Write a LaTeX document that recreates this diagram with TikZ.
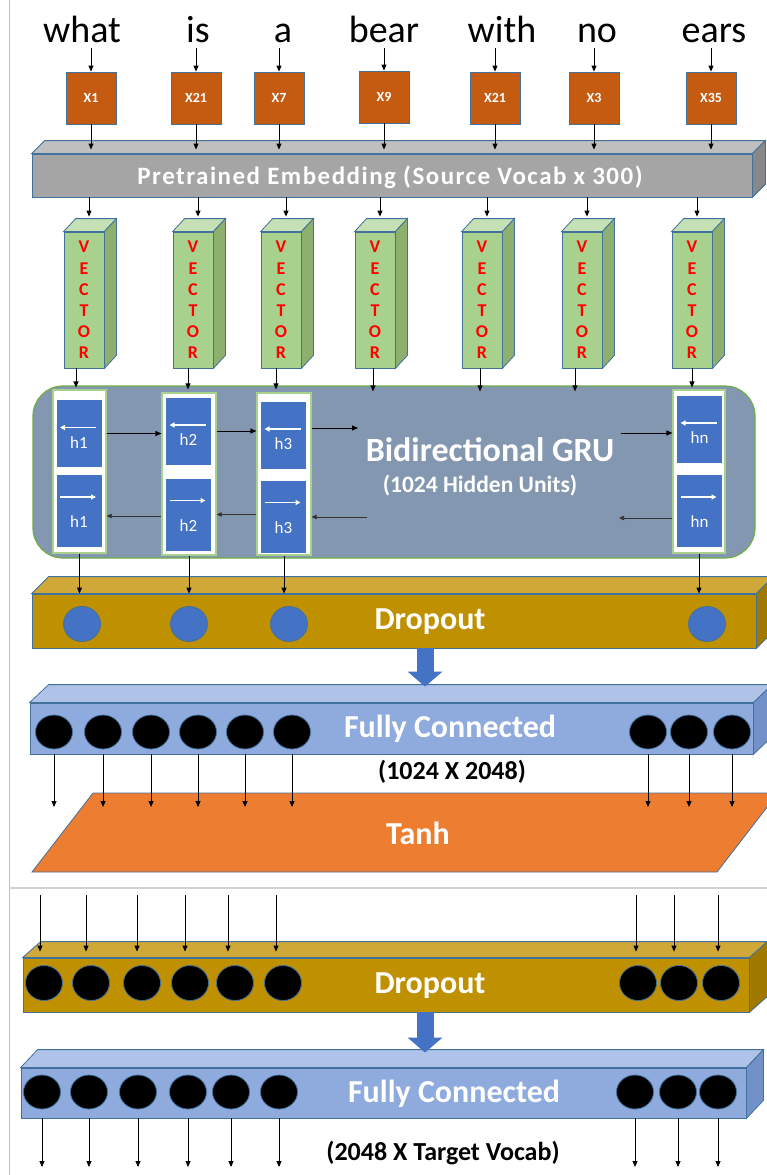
\documentclass[tikz,border=0pt]{standalone}
\usepackage{fontspec}
\setmainfont{Carlito}
\usetikzlibrary{arrows.meta,calc,shapes.geometric}
\definecolor{xorange}{HTML}{C55A11}
\definecolor{edgeblue}{HTML}{41719C}
\definecolor{embfront}{HTML}{A5A5A5}
\definecolor{embtop}{HTML}{BFBFBF}
\definecolor{embside}{HTML}{888888}
\definecolor{vecfront}{HTML}{A9D18E}
\definecolor{vectop}{HTML}{C5E0B4}
\definecolor{vecside}{HTML}{8DB06F}
\definecolor{grufill}{HTML}{8497B0}
\definecolor{grugreen}{HTML}{70AD47}
\definecolor{cellgreen}{HTML}{A9D18E}
\definecolor{sqblue}{HTML}{4472C4}
\definecolor{dropfront}{HTML}{BF9000}
\definecolor{droptop}{HTML}{D0A838}
\definecolor{dropside}{HTML}{A07A00}
\definecolor{fcfront}{HTML}{8FAADC}
\definecolor{fctop}{HTML}{AFC3E8}
\definecolor{fcside}{HTML}{7391C9}
\definecolor{tanhfill}{HTML}{ED7D31}
\newcommand{\fs}[1]{\fontsize{#1}{#1}\selectfont}
\newcommand{\sidefaces}[5]{%
  \path[fill=#4, draw=edgeblue, line width=0.8pt] (#1.north west) -- ++(#2,#3) -- ($(#1.north east)+(#2,#3)$) -- (#1.north east) -- cycle;
  \path[fill=#5, draw=edgeblue, line width=0.8pt] (#1.north east) -- ($(#1.north east)+(#2,#3)$) -- ($(#1.south east)+(#2,#3)$) -- (#1.south east) -- cycle;
}
\tikzset{
  arr/.style={-{Triangle[length=6pt,width=5pt]}, line width=0.9pt, black},
  larr/.style={-{Triangle[length=5pt,width=4.5pt]}, line width=0.7pt, black!80},
  warr/.style={-{Triangle[length=5pt,width=5pt]}, line width=1.3pt, white},
  bigarr/.style={line width=17pt, sqblue, -{Triangle[length=15pt,width=34pt]}},
  word/.style={font=\fs{38}, inner sep=0pt, anchor=base},
  xbox/.style={rectangle, fill=xorange, draw=edgeblue, line width=0.8pt, minimum width=50pt, minimum height=52pt, inner sep=0pt, text=white, font=\fs{14}\bfseries},
  barfront/.style={rectangle, draw=edgeblue, line width=0.8pt, inner sep=0pt, text=white},
  vecbox/.style={rectangle, fill=vecfront, draw=edgeblue, line width=0.8pt, minimum width=40pt, minimum height=136pt, inner sep=0pt, text=red, align=center, font=\fontsize{18}{21.2}\selectfont\bfseries},
  cellbox/.style={rectangle, fill=white, draw=cellgreen, line width=1.2pt, inner sep=0pt},
  sq/.style={rectangle, fill=sqblue, inner sep=0pt},
  hlab/.style={text=white, font=\fs{17}, inner sep=0pt},
  bcirc/.style={ellipse, fill=sqblue, draw=edgeblue, line width=0.8pt, minimum width=37pt, minimum height=35pt, inner sep=0pt},
  kcirc/.style={ellipse, fill=black, draw=edgeblue, line width=0.8pt, minimum width=37pt, minimum height=34pt, inner sep=0pt},
  bartext/.style={text=white, font=\fs{32}\bfseries, inner sep=0pt},
  dimtext/.style={text=black, font=\fs{26}\bfseries, inner sep=0pt},
}
\begin{document}
\begin{tikzpicture}[x=1pt,y=-1pt]
\useasboundingbox (0,0) rectangle (767,1175);
\clip (0,0) rectangle (767,1175);
\fill[white] (0,0) rectangle (767,1175);
\draw[black!25, line width=1pt] (9,0) -- (9,1175);
\draw[black!18, line width=2pt] (9,888) -- (767,888);

% words
\node[word] (w1) at (82,42) {what};
\node[word] (w2) at (198,42) {is};
\node[word] (w3) at (283,42) {a};
\node[word] (w4) at (384,42) {bear};
\node[word] (w5) at (502,42) {with};
\node[word] (w6) at (597,42) {no};
\node[word] (w7) at (714,42) {ears};

% X boxes
\node[xbox] (x1) at (91,98) {X1};
\node[xbox] (x2) at (196,98) {X21};
\node[xbox] (x3) at (279,98) {X7};
\node[xbox] (x4) at (384,97) {X9};
\node[xbox] (x5) at (495,98) {X21};
\node[xbox] (x6) at (594,98) {X3};
\node[xbox] (x7) at (711,98) {X35};
\foreach \i in {1,...,7}{\draw[arr] ([yshift=-6pt]w\i.base -| x\i.north) -- (x\i.north);}

% embedding bar
\node[barfront, fill=embfront, minimum width=720pt, minimum height=43pt] (emb) at (392,175.5) {};
\sidefaces{emb}{13}{-13}{embtop}{embside}
\node[text=white, font=\fs{25}\bfseries\addfontfeature{LetterSpace=6}, inner sep=0pt] (embt) at (390,177) {Pretrained Embedding (Source Vocab x 300)};
\foreach \i in {1,...,7}{\draw[arr] (x\i.south) -- ([yshift=4pt]x\i.south |- emb.north);}

% vectors
\foreach \i/\x in {1/84,2/193,3/281,4/375,5/482,6/582,7/692}{
  \node[vecbox] (v\i) at (\x,300) {V\\E\\C\\T\\O\\R};
  \sidefaces{v\i}{12}{-13}{vectop}{vecside}
  \draw[arr] ([xshift=5pt]v\i.north |- emb.south) -- ([xshift=5pt,yshift=15pt]v\i.north);
}

% GRU box
\node[rectangle, rounded corners=30pt, fill=grufill, draw=grugreen, line width=1.2pt, minimum width=722pt, minimum height=172pt, inner sep=0pt] (gru) at (394,472) {};
\node[text=white, font=\fs{34}\bfseries, inner sep=0pt] (grut) at (490,450) {Bidirectional GRU};
\node[text=white, font=\fs{23.5}\bfseries, inner sep=0pt] (grus) at (480,486) {(1024 Hidden Units)};

% cells
\node[cellbox, minimum width=53pt, minimum height=163pt] (c1) at (79.5,471.5) {};
\node[cellbox, minimum width=54pt, minimum height=162pt] (c2) at (189,474) {};
\node[cellbox, minimum width=54pt, minimum height=162pt] (c3) at (284,474) {};
\node[cellbox, minimum width=52pt, minimum height=163pt] (cn) at (699,471.5) {};
\foreach \n/\x/\yt/\yb/\lab in {1/79/433.5/511/h1, 2/188.5/431/514.5/h2, 3/283.5/435/516.5/h3, n/699.5/429/511/hn}{
  \node[sq, minimum width=45pt, minimum height=67pt] (t\n) at (\x,\yt) {};
  \node[sq, minimum width=45pt, minimum height=72pt] (b\n) at (\x,\yb) {};
  \draw[warr] ([xshift=17pt,yshift=6pt]t\n.center) -- ([xshift=-19pt,yshift=6pt]t\n.center);
  \node[hlab] at ([yshift=-9pt]t\n.center) {\lab};
  \draw[warr] ([xshift=-19pt,yshift=14pt]b\n.center) -- ([xshift=17pt,yshift=14pt]b\n.center);
  \node[hlab] at ([yshift=-11pt]b\n.center) {\lab};
}
\coordinate (g1) at (358,428);
\coordinate (g2) at (621,433);
\coordinate (g3) at (367,517);
\coordinate (g4) at (619,518);
\draw[arr] (t1.east -| c1.east) -- (t1.east -| c2.west);
\draw[arr] (t2.east -| c2.east) -- (t2.east -| c3.west);
\draw[arr] (g1 -| c3.east) -- (g1);
\draw[arr] (g2) -- (g2 -| cn.west);
\draw[larr] ([yshift=-5pt]b1.center -| c2.west) -- ([yshift=-5pt]b1.center -| c1.east);
\draw[larr] (b2.center -| c3.west) -- (b2.center -| c2.east);
\draw[larr] (g3) -- (g3 -| c3.east);
\draw[larr] (g4 -| cn.west) -- (g4);

% vectors -> GRU
\foreach \nm/\dx/\tg/\dy in {1/-8/c1/2, 2/-5/c2/3, 3/-5/c3/3, 4/-2/gru/-6, 5/-2/gru/-6, 6/-7/gru/-6, 7/0/cn/2}{
  \draw[arr] ([xshift=\dx pt]v\nm.south) -- ([xshift=\dx pt, yshift=\dy pt]v\nm.south |- \tg.north);
}

% Dropout 1
\node[barfront, fill=dropfront, minimum width=724pt, minimum height=54pt] (d1) at (394,621) {};
\sidefaces{d1}{17}{-17}{droptop}{dropside}
\foreach \i/\x in {1/82,2/189,3/289,4/707}{\node[bcirc] (da\i) at (\x,624) {};}
\node[bartext] (d1t) at (430,622) {Dropout};
\foreach \c in {c1,c2,c3,cn}{\draw[arr] (\c.south) -- (\c.south |- d1.north);}

% FC 1
\node[barfront, fill=fcfront, minimum width=723pt, minimum height=51pt] (fc1) at (391.5,728.5) {};
\sidefaces{fc1}{19}{-18}{fctop}{fcside}
\foreach \i/\x in {1/54,2/103,3/151,4/198,5/245,6/292,7/648,8/689,9/732}{\node[kcirc] (fa\i) at (\x,732) {};}
\node[bartext] (fc1t) at (450,729) {Fully Connected};
\draw[bigarr] ([xshift=31pt]d1.south) -- ([xshift=31pt,yshift=16pt]d1.south |- fc1.north);
\node[dimtext] (fc1d) at (452,772) {(1024 X 2048)};

% Tanh
\path[fill=tanhfill, draw=edgeblue, line width=0.8pt] (32,872) -- (93,793) -- (778,793) -- (717,872) -- cycle;
\node[bartext] (tanh) at (418,833) {Tanh};
\coordinate (tt) at (0,807);
\foreach \i in {1,...,9}{\draw[arr] (fa\i.south |- fc1.south) -- (fa\i |- tt);}

% bottom section
\coordinate (top2) at (0,895);
\node[barfront, fill=dropfront, minimum width=726pt, minimum height=54pt] (d2) at (386,985) {};
\sidefaces{d2}{18}{-16}{droptop}{dropside}
\foreach \i/\x in {1/44,2/91,3/142,4/190,5/235,6/283,7/638,8/679,9/721}{\node[kcirc, minimum height=35pt] (db\i) at (\x,983) {};}
\node[bartext] (d2t) at (430,986) {Dropout};
\foreach \i/\x in {1/40,2/86,3/137,4/185,5/228,6/276,7/636,8/674,9/718}{
  \coordinate (s\i) at (\x,895);
  \draw[arr] (s\i) -- ([yshift=6pt]s\i |- d2.north);
}

\node[barfront, fill=fcfront, minimum width=725pt, minimum height=50pt] (fc2) at (383.5,1093) {};
\sidefaces{fc2}{17}{-18}{fctop}{fcside}
\foreach \i/\x in {1/42,2/89,3/138,4/188,5/231,6/279,7/635,8/678,9/718}{\node[kcirc] (fb\i) at (\x,1092) {};}
\node[bartext] (fc2t) at (454,1094) {Fully Connected};
\draw[bigarr] ([xshift=39pt]d2.south) -- ([xshift=39pt,yshift=15pt]d2.south |- fc2.north);
\node[dimtext] (fc2d) at (443,1153) {(2048 X Target Vocab)};
\coordinate (bot) at (0,1167);
\foreach \i in {1,...,9}{\draw[arr] (fb\i.south |- fc2.south) -- (fb\i |- bot);}
\end{tikzpicture}
\end{document}
